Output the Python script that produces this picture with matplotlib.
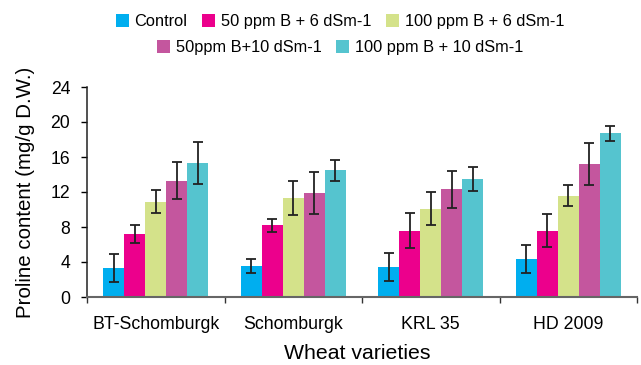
import matplotlib
matplotlib.use("Agg")
import matplotlib.pyplot as plt
import numpy as np

plt.rcParams['font.family'] = ['Liberation Sans', 'DejaVu Sans']

# data
varieties = ["BT-Schomburgk", "Schomburgk", "KRL 35", "HD 2009"]
treatments = ["Control", "50 ppm B + 6 dSm-1", "100 ppm B + 6 dSm-1",
              "50ppm B+10 dSm-1", "100 ppm B + 10 dSm-1"]
colors = ["#00aeef", "#ec008c", "#d4e28a", "#c4569e", "#55c4cf"]

control = [3.3, 3.6, 3.4, 4.4]
b50_6 = [7.2, 8.2, 7.6, 7.6]
b100_6 = [10.9, 11.3, 10.1, 11.6]
b50_10 = [13.3, 11.9, 12.3, 15.2]
b100_10 = [15.3, 14.5, 13.5, 18.7]

control_err = [1.6, 0.8, 1.6, 1.6]
b50_6_err = [1.0, 0.75, 2.0, 1.85]
b100_6_err = [1.3, 1.95, 1.9, 1.25]
b50_10_err = [2.15, 2.4, 2.1, 2.45]
b100_10_err = [2.4, 1.2, 1.35, 0.85]

values = [control, b50_6, b100_6, b50_10, b100_10]
errors = [control_err, b50_6_err, b100_6_err, b50_10_err, b100_10_err]

fig = plt.figure(figsize=(6.41, 3.65), dpi=100)
ax = fig.add_axes([87 / 641, 1 - 297 / 365, 550 / 641, 210 / 365])

centers = np.arange(len(varieties)) + 0.5
width = 0.153
handles = []
for i, (vals, errs) in enumerate(zip(values, errors)):
    x = centers + (i - 2) * width
    b = ax.bar(x, vals, width, color=colors[i], label=treatments[i], zorder=2)
    ax.errorbar(x, vals, yerr=errs, fmt="none", ecolor="#222222",
                elinewidth=1.3, capsize=3.3, capthick=1.3, zorder=3)
    handles.append(b)

ax.set_xlim(0, 4)
ax.set_ylim(0, 24)
ax.set_yticks(range(0, 25, 4))
ax.set_xticks(centers)
ax.set_xticklabels(varieties, fontsize=12.8)
ax.set_xticks(np.arange(0, 5), minor=True)
ax.tick_params(axis="x", which="major", length=0, pad=13.5)
ax.tick_params(axis="x", which="minor", length=4.5, width=1, color="#333333")
ax.tick_params(axis="y", length=4.5, width=1, labelsize=12.7, pad=7.5)

for s in ["top", "right"]:
    ax.spines[s].set_visible(False)
ax.spines["left"].set_color("#222222")
ax.spines["bottom"].set_color("#666666")
ax.spines["left"].set_linewidth(1.1)
ax.spines["bottom"].set_linewidth(1.5)

ax.set_ylabel("Proline content (mg/g D.W.)", fontsize=14.8, labelpad=11)
ax.set_xlabel("Wheat varieties", fontsize=15.3)
ax.xaxis.set_label_coords((357 - 87) / 550, -0.222)
ax.xaxis.label.set_va("top")

legend_kw = dict(frameon=False, prop={'size': 11.8},
                 handlelength=0.8, handleheight=0.8,
                 handletextpad=0.35, columnspacing=0.9, borderaxespad=0)
fig.legend(handles[:3], treatments[:3], ncol=3, loc="center",
           bbox_to_anchor=(340 / 641, 1 - 21.5 / 365), **legend_kw)
fig.legend(handles[3:], treatments[3:], ncol=2, loc="center",
           bbox_to_anchor=(340 / 641, 1 - 47.5 / 365), **legend_kw)

fig.savefig("out.png", dpi=100)
